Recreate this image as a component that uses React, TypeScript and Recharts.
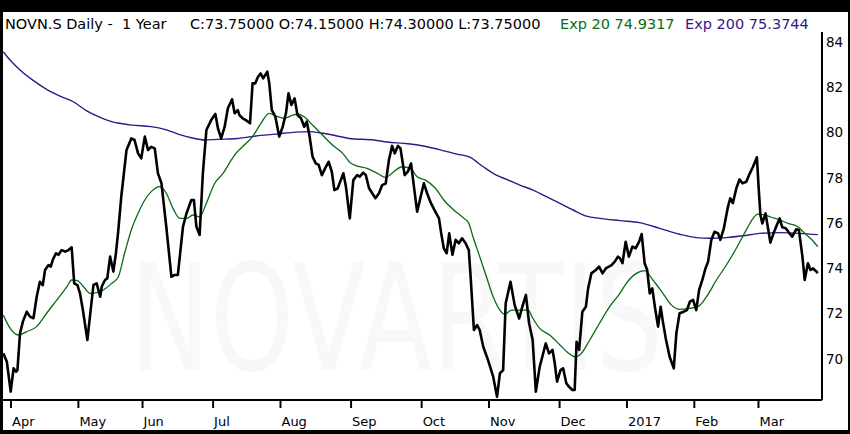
import { LineChart, Line, XAxis, YAxis } from 'recharts'

// x = trading day index (0 = first day shown, late March 2016)
const monthTicks = [3, 24, 44, 66, 87, 109, 131, 152, 174, 195, 216, 236]
const monthLabels = ['Apr', 'May', 'Jun', 'Jul', 'Aug', 'Sep', 'Oct', 'Nov', 'Dec', '2017', 'Feb', 'Mar']
const priceTicks = [70, 72, 74, 76, 78, 80, 82, 84]

// daily close as [day, price]
const close: [number, number][] = [
  [0.6, 70.24], [1.7, 69.87], [2.9, 68.55], [3.8, 69.58], [4.6, 69.43], [5.0, 69.5], [5.8, 71.12],
  [6.7, 71.64], [7.9, 72.08], [8.9, 71.86], [10.0, 71.79], [11.0, 72.74], [12.0, 73.4], [12.9, 73.25],
  [13.6, 73.92], [14.7, 74.14], [15.4, 74.07], [16.0, 74.36], [17.0, 74.66], [17.8, 74.59], [18.8, 74.8],
  [19.9, 74.73], [20.9, 74.8], [21.9, 74.92], [22.7, 73.33], [23.7, 73.25], [24.5, 72.89], [25.4, 72.15],
  [26.8, 70.83], [27.6, 71.86], [28.7, 73.26], [29.7, 73.33], [30.8, 72.74], [31.3, 73.19], [32.3, 73.48],
  [33.0, 73.55], [33.9, 74.51], [34.9, 73.85], [35.7, 74.66], [36.4, 75.6], [37.4, 77.2], [39.0, 79.22],
  [40.5, 79.73], [41.5, 79.66], [42.6, 79.07], [43.6, 78.85], [44.7, 79.81], [45.7, 79.22], [46.7, 79.36],
  [47.8, 79.29], [48.8, 78.19], [49.9, 77.75], [51.4, 75.83], [53.0, 73.62], [54.0, 73.7], [55.0, 73.7],
  [56.6, 75.83], [57.7, 76.42], [59.2, 77.01], [60.0, 77.01], [60.8, 75.83], [61.8, 75.47], [62.8, 78.19],
  [63.9, 80.1], [65.4, 80.54], [66.7, 80.81], [67.5, 80.18], [68.5, 79.73], [69.6, 80.25], [70.6, 81.06],
  [71.9, 81.46], [72.7, 80.84], [73.7, 80.98], [74.2, 80.76], [75.2, 80.62], [76.2, 80.54], [77.5, 80.4],
  [78.3, 82.16], [79.1, 82.16], [80.0, 82.45], [80.8, 82.6], [81.6, 82.38], [82.9, 82.68], [83.5, 82.16],
  [84.3, 80.98], [85.4, 80.69], [86.6, 79.81], [87.7, 80.25], [88.7, 80.84], [89.5, 81.72], [90.4, 81.21],
  [91.4, 81.5], [92.3, 80.76], [93.4, 80.62], [94.4, 80.25], [95.2, 80.47], [96.0, 79.88], [97.0, 78.92],
  [98.0, 78.63], [98.9, 78.56], [99.9, 78.11], [100.9, 78.41], [102.0, 78.7], [103.0, 78.26], [103.8, 77.45],
  [104.8, 77.52], [105.8, 77.89], [106.6, 78.19], [107.4, 77.6], [108.6, 76.2], [109.7, 77.89], [110.9, 78.11],
  [111.7, 78.04], [112.8, 78.22], [113.6, 78.11], [114.6, 77.53], [115.6, 77.31], [116.6, 77.09], [117.7, 77.31],
  [118.7, 77.67], [119.8, 77.74], [120.8, 78.78], [121.8, 79.4], [122.6, 79.07], [123.6, 79.4], [124.4, 79.29],
  [125.7, 78.11], [126.7, 78.26], [127.7, 78.63], [128.6, 77.6], [129.6, 76.49], [130.7, 77.16], [131.7, 77.75],
  [132.7, 77.31], [133.9, 76.87], [135.3, 76.49], [136.4, 76.2], [137.1, 75.54], [137.9, 74.88], [138.8, 74.66],
  [139.6, 75.54], [140.6, 74.59], [141.6, 75.25], [142.6, 75.1], [143.6, 75.32], [144.7, 75.1], [145.7, 74.8],
  [146.2, 73.77], [147.3, 71.27], [148.3, 71.49], [149.1, 71.27], [150.2, 70.53], [151.7, 69.94], [153.3, 69.21],
  [154.5, 68.32], [155.4, 69.36], [156.4, 69.5], [157.2, 72.45], [158.7, 73.4], [160.0, 72.37], [161.4, 71.78],
  [162.4, 72.3], [163.5, 72.82], [164.5, 71.57], [165.6, 70.83], [166.6, 68.55], [167.8, 69.65], [169.7, 70.68],
  [170.7, 70.24], [171.8, 70.39], [172.5, 69.8], [173.2, 68.99], [174.3, 69.5], [175.1, 69.58], [176.1, 68.92],
  [176.9, 68.77], [178.0, 68.62], [178.7, 68.62], [179.3, 70.75], [180.1, 70.39], [181.1, 72.08], [182.2, 72.3],
  [182.9, 73.11], [183.9, 73.77], [185.3, 73.92], [186.3, 74.07], [187.4, 73.77], [188.4, 73.99], [190.2, 74.14],
  [191.2, 74.29], [192.2, 74.51], [192.8, 74.44], [193.6, 74.22], [194.6, 75.17], [195.6, 74.51], [196.7, 74.95],
  [197.7, 74.88], [198.8, 75.17], [199.6, 75.51], [200.5, 74.22], [201.3, 73.92], [202.1, 72.89], [202.9, 73.11],
  [203.7, 72.3], [204.7, 71.42], [205.5, 72.3], [206.2, 71.64], [207.1, 70.9], [208.3, 70.09], [209.6, 69.58],
  [210.4, 71.12], [211.4, 72.01], [212.7, 72.08], [213.7, 72.15], [214.6, 72.52], [215.6, 72.6], [216.6, 72.15],
  [217.5, 73.04], [218.5, 73.48], [219.5, 74.0], [220.3, 74.29], [221.3, 75.25], [222.3, 75.61], [223.4, 75.54],
  [224.1, 75.25], [225.2, 75.76], [226.5, 76.72], [227.2, 77.09], [228.0, 76.87], [229.1, 77.53], [230.1, 77.92],
  [231.0, 77.75], [232.2, 77.82], [233.3, 78.19], [234.3, 78.48], [235.5, 78.9], [236.1, 77.45], [236.6, 76.35],
  [237.2, 75.98], [238.2, 76.42], [238.9, 75.83], [239.7, 75.13], [240.7, 75.54], [241.6, 75.86], [242.6, 76.2],
  [243.4, 75.81], [244.5, 75.76], [245.5, 75.57], [246.5, 75.39], [247.8, 75.72], [248.6, 75.69], [249.7, 74.51],
  [250.4, 73.48], [251.4, 74.22], [252.2, 73.92], [253.0, 73.99], [253.8, 73.89], [254.5, 73.78],
]

// 20 day exponential average
const exp20: [number, number][] = [
  [0.6, 71.93], [2.7, 71.35], [5.3, 71.05], [7.9, 71.2], [11.0, 71.42], [14.1, 72.01], [17.3, 72.6],
  [20.4, 73.18], [21.9, 73.48], [23.7, 73.45], [25.6, 73.18], [27.6, 72.89], [29.7, 72.92], [31.8, 73.04],
  [34.4, 73.33], [36.4, 73.6], [38.4, 74.66], [40.5, 75.69], [42.6, 76.42], [44.7, 77.01], [46.7, 77.38],
  [49.4, 77.6], [51.4, 77.31], [53.5, 76.64], [55.6, 76.2], [57.7, 76.2], [59.7, 76.35], [61.8, 76.27],
  [63.9, 76.87], [66.5, 77.75], [69.1, 78.19], [71.7, 78.78], [73.3, 79.1], [75.7, 79.44], [78.3, 79.81],
  [80.9, 80.4], [83.5, 80.84], [85.6, 80.72], [88.2, 80.62], [90.8, 80.76], [92.3, 80.81], [94.4, 80.69],
  [97.0, 80.32], [100.1, 79.88], [103.2, 79.44], [106.4, 79.07], [109.0, 78.63], [110.5, 78.53], [114.0, 78.41],
  [117.2, 78.19], [119.8, 78.01], [122.3, 78.26], [124.9, 78.48], [127.5, 78.41], [129.6, 78.04], [132.2, 77.89],
  [135.3, 77.53], [137.9, 77.01], [141.0, 76.57], [144.2, 76.2], [145.7, 75.98], [147.0, 75.39], [149.1, 74.51],
  [151.2, 73.62], [153.3, 72.74], [155.4, 72.15], [156.9, 71.96], [159.0, 72.15], [161.6, 72.15], [164.2, 72.15],
  [165.7, 71.78], [167.8, 71.34], [170.9, 71.05], [174.1, 70.61], [176.6, 70.27], [178.7, 70.09], [180.3, 70.17],
  [183.4, 70.83], [186.5, 71.58], [189.6, 72.3], [192.8, 72.89], [194.8, 73.33], [197.9, 73.77], [200.5, 73.89],
  [203.1, 73.48], [206.2, 72.89], [208.9, 72.37], [211.4, 72.18], [214.6, 72.23], [217.1, 72.3], [219.8, 72.74],
  [222.9, 73.48], [226.0, 74.14], [229.1, 74.88], [232.2, 75.69], [234.3, 76.2], [235.8, 76.39], [237.9, 76.35],
  [240.0, 76.25], [242.6, 76.13], [245.2, 75.98], [248.3, 75.83], [250.4, 75.54], [252.5, 75.28], [254.5, 74.95],
]

// 200 day exponential average
const exp200: [number, number][] = [
  [0.6, 83.56], [2.7, 83.19], [5.8, 82.75], [10.0, 82.28], [14.1, 81.9], [18.3, 81.6], [22.4, 81.35],
  [26.6, 80.95], [30.8, 80.66], [34.9, 80.45], [36.8, 80.4], [40.5, 80.32], [46.7, 80.25], [50.9, 80.13],
  [55.1, 79.92], [59.2, 79.76], [63.4, 79.66], [67.5, 79.69], [73.5, 79.73], [79.4, 79.84], [85.6, 79.92],
  [91.8, 80.01], [96.0, 80.03], [100.1, 79.96], [104.3, 79.85], [108.4, 79.73], [116.1, 79.66], [120.3, 79.57],
  [125.5, 79.51], [130.7, 79.42], [136.2, 79.25], [142.0, 79.04], [146.0, 78.9], [150.2, 78.48], [154.3, 78.11],
  [157.5, 77.92], [161.6, 77.67], [165.7, 77.45], [169.9, 77.16], [174.1, 76.86], [178.2, 76.57], [182.4, 76.3],
  [186.5, 76.2], [192.8, 76.1], [198.9, 76.01], [205.2, 75.76], [211.4, 75.5], [216.6, 75.35], [220.8, 75.32],
  [226.0, 75.35], [231.2, 75.43], [236.4, 75.54], [242.6, 75.57], [248.8, 75.54], [254.5, 75.48],
]

const GREEN = '#0b6a12'
const PURPLE = '#35168a'
const FONT = '"DejaVu Sans", Verdana, sans-serif'

const toRows = (pts: [number, number][]) => pts.map(([d, v]) => ({ d, v }))

function MonthTick({ x, y, payload }: any) {
  const i = monthTicks.indexOf(payload.value)
  return (
    <text x={x + 1} y={y + 16} fontSize={13} fontFamily={FONT} fill="#000">
      {monthLabels[i]}
    </text>
  )
}

function PriceTick({ x, y, payload }: any) {
  return (
    <text x={x} y={y + 4.9} fontSize={13.5} fontFamily={FONT} fill="#000" textAnchor="start">
      {payload.value}
    </text>
  )
}

export default function App() {
  return (
    <div style={{ position: 'relative', width: 850, height: 434, background: '#000' }}>
      <style>{'body{margin:0}'}</style>
      <div style={{ position: 'absolute', left: 3, top: 12, width: 845, height: 418, background: '#fff' }}>
        <svg width={845} height={418} style={{ position: 'absolute', left: 0, top: 0 }}>
          {/* faint company watermark behind the lines */}
          <text
            transform="translate(127,358) scale(1.07,1.48)"
            fontSize={100}
            fontFamily={FONT}
            fill="#f8f8f8"
          >
            NOVARTIS
          </text>
          <text y={17} fontSize={14.5} fontFamily={FONT} fill="#000" style={{ whiteSpace: 'pre' }}>
            <tspan x={2}>NOVN.S Daily -  1 Year</tspan>
            <tspan x={187}>C:73.75000 O:74.15000 H:74.30000 L:73.75000</tspan>
            <tspan x={557} fill={GREEN}>Exp 20 74.9317</tspan>
            <tspan x={682} fill={PURPLE}>Exp 200 75.3744</tspan>
          </text>
        </svg>
        <div style={{ position: 'absolute', left: 0, top: 0 }}>
          <LineChart width={845} height={418} margin={{ top: 20, right: 0, bottom: 0, left: 0 }}>
            <XAxis
              type="number"
              dataKey="d"
              domain={[0.5, 255.8]}
              allowDataOverflow
              ticks={monthTicks}
              interval={0}
              height={30}
              tickSize={8}
              tick={<MonthTick />}
              axisLine={{ stroke: '#000', strokeWidth: 2 }}
              tickLine={{ stroke: '#000', strokeWidth: 2 }}
            />
            <YAxis
              orientation="right"
              type="number"
              domain={[68.18, 84.43]}
              allowDataOverflow
              ticks={priceTicks}
              interval={0}
              width={26}
              tickSize={0}
              tickMargin={4}
              tick={<PriceTick />}
              axisLine={{ stroke: '#000', strokeWidth: 2 }}
              tickLine={false}
            />
            <Line
              data={toRows(exp200)}
              dataKey="v"
              type="monotone"
              stroke={PURPLE}
              strokeWidth={1.4}
              dot={false}
              activeDot={false}
              isAnimationActive={false}
            />
            <Line
              data={toRows(exp20)}
              dataKey="v"
              type="monotone"
              stroke={GREEN}
              strokeWidth={1.3}
              dot={false}
              activeDot={false}
              isAnimationActive={false}
            />
            <Line
              data={toRows(close)}
              dataKey="v"
              type="linear"
              stroke="#000"
              strokeWidth={2.6}
              strokeLinejoin="round"
              dot={false}
              activeDot={false}
              isAnimationActive={false}
            />
          </LineChart>
        </div>
      </div>
    </div>
  )
}
